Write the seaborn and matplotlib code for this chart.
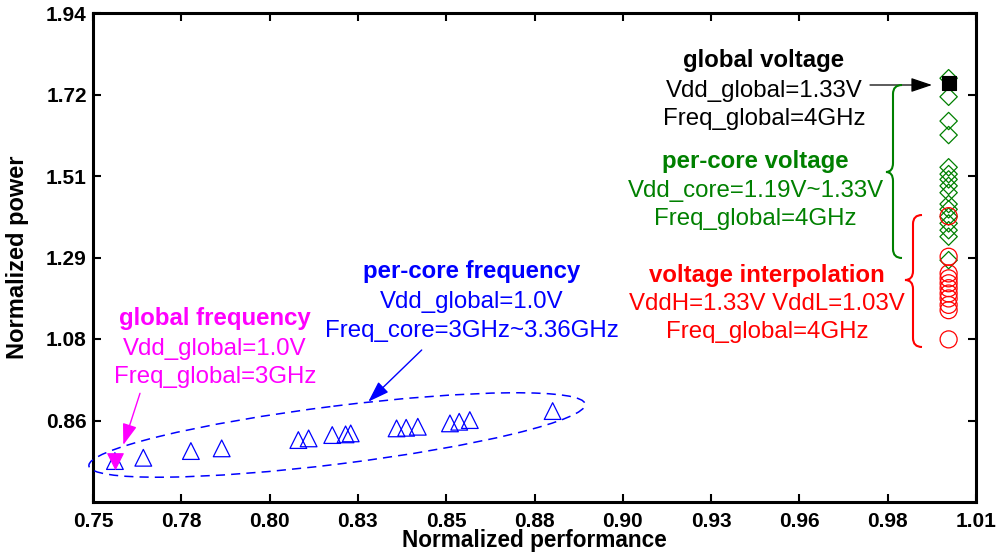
import numpy as np
import matplotlib
matplotlib.use("Agg")
import matplotlib.pyplot as plt
from matplotlib.transforms import Affine2D
from matplotlib.path import Path
from matplotlib.patches import PathPatch, Ellipse
import seaborn as sns

# ---------------- data ----------------
# per-core frequency (blue open triangles)
pcf_x = [0.7564, 0.7647, 0.7786, 0.7876, 0.8100, 0.8130, 0.8199, 0.8238,
         0.8253, 0.8387, 0.8415, 0.8449, 0.8543, 0.8570, 0.8601, 0.8843]
pcf_y = [0.758, 0.7667, 0.7844, 0.7915, 0.8134, 0.8178, 0.8266, 0.8284,
         0.8310, 0.8442, 0.8458, 0.8485, 0.8574, 0.8617, 0.8661, 0.8899]
# global frequency (magenta filled down-triangle)
gf_x = [0.7563]
gf_y = [0.757]
# per-core voltage (green open diamonds)
pcv_y = [1.768, 1.719, 1.655, 1.618, 1.533, 1.515, 1.501, 1.484, 1.466,
         1.436, 1.422, 1.403, 1.385, 1.367, 1.350, 1.288]
pcv_x = [1.0] * len(pcv_y)
# voltage interpolation (red open circles)
vi_y = [1.404, 1.297, 1.253, 1.240, 1.227, 1.214, 1.200, 1.187, 1.170,
        1.156, 1.079]
vi_x = [1.0] * len(vi_y)
# global voltage (black filled square)
gv_x = [1.0]
gv_y = [1.756]

x_ticks = list(np.linspace(0.75, 1.008, 11))
x_ticklabels = ["0.75", "0.78", "0.80", "0.83", "0.85", "0.88", "0.90",
                "0.93", "0.96", "0.98", "1.01"]
y_ticks = [0.865, 1.08, 1.295, 1.51, 1.725, 1.94]
y_ticklabels = ["0.86", "1.08", "1.29", "1.51", "1.72", "1.94"]

GREEN = "#008000"

# ---------------- style ----------------
sns.set_theme(style="ticks")
plt.rcParams["font.family"] = ["Liberation Sans", "DejaVu Sans"]

W, H = 996, 552
fig = plt.figure(figsize=(W / 100, H / 100), dpi=100)
ax = fig.add_axes([93 / W, 1 - 502 / H, 883 / W, 489 / H])

# pixel (y down) -> figure transform for annotation geometry
pix = Affine2D().scale(1 / W, -1 / H).translate(0, 1) + fig.transFigure

# ---------------- marks ----------------
sns.scatterplot(x=pcf_x, y=pcf_y, marker="^", s=145, color="blue",
                facecolor="none", edgecolor="blue", linewidth=0.9,
                legend=False, ax=ax, zorder=3)
sns.scatterplot(x=gf_x, y=gf_y, marker="v", s=125, color="magenta",
                edgecolor="magenta", linewidth=0.8, legend=False, ax=ax, zorder=4)
sns.scatterplot(x=pcv_x, y=pcv_y, marker="D", s=78, color=GREEN,
                facecolor="none", edgecolor=GREEN, linewidth=0.9,
                legend=False, ax=ax, zorder=3)
sns.scatterplot(x=vi_x, y=vi_y, marker="o", s=150, color="red",
                facecolor="none", edgecolor="red", linewidth=0.9,
                legend=False, ax=ax, zorder=3)
sns.scatterplot(x=gv_x, y=gv_y, marker="s", s=115, color="black",
                edgecolor="black", linewidth=0.8, legend=False, ax=ax, zorder=5)

# ---------------- axes ----------------
ax.set_xlim(0.75, 1.008)
ax.set_ylim(0.65, 1.94)
ax.set_xticks(x_ticks)
ax.set_xticklabels(x_ticklabels, fontweight="bold")
ax.set_yticks(y_ticks)
ax.set_yticklabels(y_ticklabels, fontweight="bold")
ax.tick_params(axis="both", direction="in", length=6, width=1.5,
               top=True, right=True, labelsize=15, color="black",
               labelcolor="black")
ax.tick_params(axis="x", pad=7)
ax.tick_params(axis="y", pad=4.5)
for sp in ax.spines.values():
    sp.set_visible(True)
    sp.set_linewidth(2.2)
    sp.set_color("black")
ax.set_xlabel("Normalized performance", fontsize=16.3, fontweight="bold",
              color="black")
ax.set_ylabel("Normalized power", fontsize=17, fontweight="bold",
              color="black")
ax.xaxis.set_label_coords(0.5, -0.056)
ax.yaxis.set_label_coords(-0.072, 0.5)
ax.grid(False)

# ---------------- annotation text ----------------
groups = [
    (764, [66.7, 96.7, 125],
     ["global voltage", "Vdd_global=1.33V", "Freq_global=4GHz"], "black"),
    (755.5, [168.3, 196.7, 225],
     ["per-core voltage", "Vdd_core=1.19V~1.33V", "Freq_global=4GHz"], GREEN),
    (767, [281.7, 310, 338],
     ["voltage interpolation", "VddH=1.33V VddL=1.03V", "Freq_global=4GHz"], "red"),
    (471.5, [278.3, 308.3, 336.7],
     ["per-core frequency", "Vdd_global=1.0V", "Freq_core=3GHz~3.36GHz"], "blue"),
    (215, [325, 355, 383.3],
     ["global frequency", "Vdd_global=1.0V", "Freq_global=3GHz"], "magenta"),
]
for cx, ys, lines, col in groups:
    for i, (yy, txt) in enumerate(zip(ys, lines)):
        fig.text(cx, yy, txt, transform=pix, ha="center", va="baseline",
                 fontsize=17.3, color=col,
                 fontweight="bold" if i == 0 else "normal")

# ---------------- arrows ----------------
arrows = [
    ((870, 85), (932, 85), "black", 0.9),
    ((421.7, 350), (368.3, 401.7), "blue", 1.0),
    ((140, 393.3), (123.3, 445), "magenta", 1.0),
]
for (x0, y0), (x1, y1), col, lw in arrows:
    ax.annotate("", xy=(x1, y1), xycoords=pix, xytext=(x0, y0), textcoords=pix,
                arrowprops=dict(arrowstyle="-|>,head_length=0.65,head_width=0.22",
                                mutation_scale=20, color=col, lw=lw,
                                shrinkA=0, shrinkB=0),
                annotation_clip=False)

# ---------------- braces ----------------
def brace(x_line, x_end, x_tip, y_top, y_mid, y_bot, r, col):
    verts = [(x_end, y_top), (x_line, y_top), (x_line, y_top + r),
             (x_line, y_mid - r),
             (x_line, y_mid), (x_tip, y_mid),
             (x_line, y_mid), (x_line, y_mid + r),
             (x_line, y_bot - r),
             (x_line, y_bot), (x_end, y_bot)]
    codes = [Path.MOVETO, Path.CURVE3, Path.CURVE3, Path.LINETO,
             Path.CURVE3, Path.CURVE3, Path.CURVE3, Path.CURVE3,
             Path.LINETO, Path.CURVE3, Path.CURVE3]
    patch = PathPatch(Path(verts, codes), transform=pix, facecolor="none",
                      edgecolor=col, lw=1.5, clip_on=False)
    fig.add_artist(patch)

brace(893, 902, 886, 85, 172, 258, 9, GREEN)
brace(913, 922, 905, 215, 280, 347, 9, "red")

# ---------------- dashed ellipse ----------------
ell = Ellipse((337, 435), width=500, height=58, angle=-7.1, transform=pix,
              facecolor="none", edgecolor="blue", lw=1.1,
              linestyle=(0, (6, 4)), clip_on=False)
fig.add_artist(ell)

fig.savefig("out.png", dpi=100)
